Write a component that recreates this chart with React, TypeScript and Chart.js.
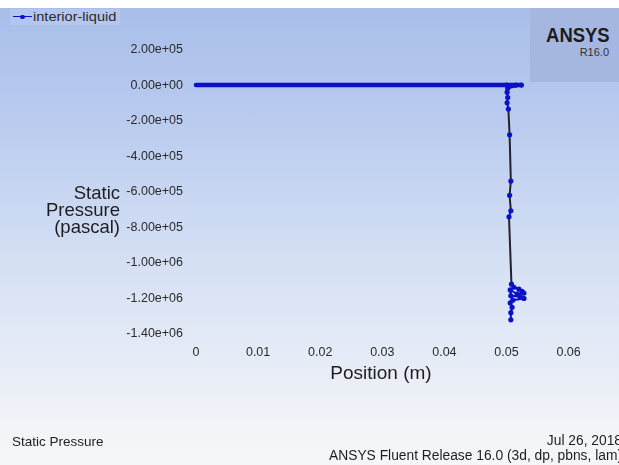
import React, { useEffect, useRef } from "react";
import { Chart, registerables } from "chart.js";

Chart.register(...registerables);

// ---- data ----
const seriesName = "interior-liquid";
const positionM = [
  0, 0.005, 0.01, 0.015, 0.02, 0.025, 0.03, 0.035, 0.04, 0.045, 0.05, 0.0515, 0.0524,
  0.0502, 0.0501, 0.0502, 0.0501, 0.0503, 0.0505, 0.0507, 0.0505, 0.0507, 0.0504,
  0.0508, 0.0512, 0.052, 0.0525, 0.0528, 0.0517, 0.0506, 0.0507, 0.0522, 0.0528,
  0.051, 0.0506, 0.0509, 0.0507, 0.0507,
];
const staticPressurePa = [
  0, 0, 0, 0, 0, 0, 0, 0, 0, 0, 0, 0, 0,
  -18000, -40000, -70000, -100000, -135000, -280000, -540000, -620000, -707000, -741000,
  -1120000, -1137000, -1148000, -1160000, -1170000, -1175000, -1152000, -1185000, -1190000, -1200000,
  -1210000, -1225000, -1250000, -1280000, -1320000,
];
const xTickValues = [0, 0.01, 0.02, 0.03, 0.04, 0.05, 0.06];
const xTickLabels = ["0", "0.01", "0.02", "0.03", "0.04", "0.05", "0.06"];
const yTickValues = [200000, 0, -200000, -400000, -600000, -800000, -1000000, -1200000, -1400000];
const yTickLabels = [
  "2.00e+05", "0.00e+00", "-2.00e+05", "-4.00e+05", "-6.00e+05",
  "-8.00e+05", "-1.00e+06", "-1.20e+06", "-1.40e+06",
];
const xTitle = "Position (m)";
const yTitleLines = ["Static", "Pressure", "(pascal)"];
const footerLeft = "Static Pressure";
const footerDate = "Jul 26, 2018";
const footerRelease = "ANSYS Fluent Release 16.0 (3d, dp, pbns, lam)";

const BLUE = "#0b12c6";
const DARK = "#23232e";
const FONT = '"Liberation Sans", Arial, Helvetica, sans-serif';

export default function App() {
  const canvasRef = useRef<HTMLCanvasElement | null>(null);

  useEffect(() => {
    const canvas = canvasRef.current;
    if (!canvas) return;
    const points = positionM.map((x, i) => ({ x, y: staticPressurePa[i] }));
    const chart = new Chart(canvas, {
      type: "scatter",
      data: {
        datasets: [
          {
            label: seriesName,
            data: points,
            showLine: true,
            clip: false as any,
            borderColor: BLUE,
            backgroundColor: BLUE,
            pointBackgroundColor: BLUE,
            pointBorderColor: BLUE,
            pointRadius: (ctx: any) => {
              const p = ctx.raw;
              return p && p.y === 0 && p.x < 0.05 ? 0 : 2.6;
            },
            pointBorderWidth: 0,
            borderCapStyle: "round",
            segment: {
              borderWidth: (ctx: any) =>
                ctx.p0.parsed.y === 0 && ctx.p1.parsed.y === 0 ? 4.5 : 2,
              borderColor: (ctx: any) =>
                Math.abs(ctx.p0.parsed.y - ctx.p1.parsed.y) > 60000 ? DARK : BLUE,
            },
          } as any,
        ],
      },
      options: {
        animation: false,
        responsive: false,
        devicePixelRatio: 1,
        layout: { padding: { left: 0, right: 50.4, top: 49.5, bottom: 0 } },
        plugins: { legend: { display: false }, tooltip: { enabled: false } },
        scales: {
          x: {
            type: "linear",
            min: 0,
            max: 0.06,
            afterFit: (s: any) => {
              s.height = 131;
            },
            afterBuildTicks: (s: any) => {
              s.ticks = xTickValues.map((v) => ({ value: v }));
            },
            grid: { display: false, drawTicks: false },
            border: { display: false },
            ticks: {
              padding: 11,
              color: "#2a2a2a",
              font: { family: FONT, size: 12.5 },
              maxRotation: 0,
              autoSkip: false,
              callback: (v: any) => {
                const i = xTickValues.findIndex((t) => Math.abs(t - Number(v)) < 1e-9);
                return i >= 0 ? xTickLabels[i] : "";
              },
            },
          },
          y: {
            type: "linear",
            min: -1400000,
            max: 200000,
            afterFit: (s: any) => {
              s.width = 196;
            },
            afterBuildTicks: (s: any) => {
              s.ticks = yTickValues.map((v) => ({ value: v }));
            },
            grid: { display: false, drawTicks: false },
            border: { display: false },
            ticks: {
              padding: 13,
              color: "#2a2a2a",
              font: { family: FONT, size: 12.5 },
              autoSkip: false,
              callback: (v: any) => {
                const i = yTickValues.findIndex((t) => Math.abs(t - Number(v)) < 1);
                return i >= 0 ? yTickLabels[i] : "";
              },
            },
          },
        },
      },
    });
    return () => chart.destroy();
  }, []);

  const abs: React.CSSProperties = { position: "absolute", whiteSpace: "nowrap" };

  return (
    <div
      style={{
        position: "fixed",
        left: 0,
        top: 0,
        width: 619,
        height: 465,
        overflow: "hidden",
        background: "#ffffff",
        fontFamily: FONT,
        color: "#1e1e1e",
      }}
    >
      <div
        style={{
          ...abs,
          left: 0,
          top: 8,
          width: 619,
          height: 457,
          background:
            "linear-gradient(180deg, #a8bee9 0%, #b6c8ee 20%, #c9d7f2 42%, #dbe4f5 62%, #e8edf7 80%, #f2f4f8 92%, #f5f6f8 100%)",
        }}
      />
      {/* ANSYS logo box */}
      <div style={{ ...abs, left: 530, top: 8, width: 89, height: 74, background: "#a5b7e0" }} />
      <div
        style={{
          ...abs,
          right: 9,
          top: 24,
          fontSize: 20.5,
          fontWeight: 700,
          color: "#1c1c1c",
          transform: "scaleX(0.9)",
          transformOrigin: "right center",
          lineHeight: "22px",
        }}
      >
        ANSYS
      </div>
      <div style={{ ...abs, right: 10, top: 46, fontSize: 11, color: "#333", lineHeight: "13px" }}>
        R16.0
      </div>
      {/* legend */}
      <div style={{ ...abs, left: 10, top: 9, width: 110, height: 16, background: "#b4c6ee" }} />
      <div style={{ ...abs, left: 13, top: 16, width: 19, height: 1.2, background: BLUE }} />
      <div
        style={{ ...abs, left: 20, top: 14.5, width: 4.5, height: 4.5, borderRadius: 3, background: BLUE }}
      />
      <div
        style={{
          ...abs,
          left: 33,
          top: 9,
          fontSize: 13,
          lineHeight: "15px",
          color: "#2a2a2a",
          transform: "scaleX(1.12)",
          transformOrigin: "left center",
        }}
      >
        {seriesName}
      </div>
      <canvas
        ref={canvasRef}
        width={619}
        height={465}
        style={{ position: "absolute", left: 0, top: 0, width: 619, height: 465 }}
      />
      {/* y title */}
      <div
        style={{
          ...abs,
          right: 499,
          top: 183.5,
          fontSize: 18.5,
          lineHeight: "17.3px",
          textAlign: "right",
          color: "#1e1e1e",
        }}
      >
        {yTitleLines.map((l, i) => (
          <div key={i}>{l}</div>
        ))}
      </div>
      {/* x title */}
      <div
        style={{
          ...abs,
          left: 381,
          top: 362,
          transform: "translateX(-50%)",
          fontSize: 19,
          lineHeight: "22px",
          color: "#1e1e1e",
        }}
      >
        {xTitle}
      </div>
      {/* footer */}
      <div style={{ ...abs, left: 12, top: 434, fontSize: 13.5, lineHeight: "16px", color: "#1e1e1e" }}>
        {footerLeft}
      </div>
      <div
        style={{
          ...abs,
          right: -3,
          top: 434,
          fontSize: 13.8,
          lineHeight: "14.5px",
          textAlign: "right",
          color: "#1e1e1e",
        }}
      >
        <div>{footerDate}</div>
        <div>{footerRelease}</div>
      </div>
    </div>
  );
}
